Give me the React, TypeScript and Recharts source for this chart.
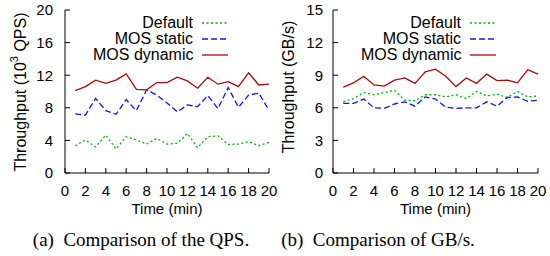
import React from 'react'
import { LineChart, Line, XAxis, YAxis, Legend, Label } from 'recharts'

const minutes = [1, 2, 3, 4, 5, 6, 7, 8, 9, 10, 11, 12, 13, 14, 15, 16, 17, 18, 19, 20]

// (a) throughput, 10^3 QPS
const qpsDefault = [3.35, 4.05, 3.2, 4.65, 2.95, 4.45, 4.05, 3.55, 4.25, 3.55, 3.65, 4.85, 3.1, 4.45, 4.55, 3.5, 3.55, 3.85, 3.35, 3.75]
const qpsStatic = [7.25, 7.1, 9.15, 7.65, 7.2, 9.0, 7.65, 10.2, 9.55, 8.6, 7.5, 8.35, 8.15, 9.5, 7.9, 10.5, 8.05, 9.55, 9.8, 7.7]
const qpsDynamic = [10.1, 10.6, 11.4, 11.0, 11.4, 12.15, 10.27, 10.2, 11.1, 11.1, 11.75, 11.3, 10.4, 11.75, 10.9, 11.2, 10.6, 12.3, 10.8, 10.9]

// (b) throughput, GB/s
const gbDefault = [6.55, 6.85, 7.4, 7.2, 7.4, 7.6, 6.7, 6.65, 7.2, 7.2, 7.0, 7.2, 6.85, 7.5, 7.1, 7.25, 6.95, 7.5, 7.0, 7.1]
const gbStatic = [6.4, 6.4, 6.8, 6.0, 5.95, 6.35, 6.55, 6.15, 7.0, 6.8, 6.05, 5.95, 6.0, 6.0, 6.55, 6.15, 6.95, 7.0, 6.6, 6.7]
const gbDynamic = [7.9, 8.3, 8.9, 8.1, 8.0, 8.55, 8.75, 8.25, 9.3, 9.55, 8.9, 7.95, 8.75, 8.25, 9.1, 8.5, 8.55, 8.3, 9.5, 9.1]

const timeTicks = [0, 2, 4, 6, 8, 10, 12, 14, 16, 18, 20]
const qpsTicks = [0, 4, 8, 12, 16, 20]
const gbTicks = [0, 3, 6, 9, 12, 15]

const series = [
  { key: 'def', name: 'Default', color: '#00b400', dash: '2 2.5' },
  { key: 'stat', name: 'MOS static', color: '#1414ff', dash: '6 3' },
  { key: 'dyn', name: 'MOS dynamic', color: '#aa0a0a', dash: undefined as string | undefined },
]

const FONT = '"Liberation Sans", Arial, Helvetica, sans-serif'

function LegendBox() {
  return (
    <div style={{ fontSize: 16, lineHeight: '16px', color: '#000', fontFamily: FONT }}>
      {series.map((s) => (
        <div key={s.key} style={{ display: 'flex', alignItems: 'center', height: 16 }}>
          <span style={{ width: 100, textAlign: 'right', marginRight: 9, whiteSpace: 'nowrap' }}>{s.name}</span>
          <svg width={26} height={4}>
            <line x1={0} y1={2} x2={26} y2={2} stroke={s.color} strokeWidth={1.3} strokeDasharray={s.dash} />
          </svg>
        </div>
      ))}
    </div>
  )
}

type PanelProps = {
  left: number
  width: number
  yAxisWidth: number
  rightMargin: number
  yMax: number
  yTicks: number[]
  tickGap: number
  values: number[][]
  yLabel: React.ReactNode
  labelX: number
  labelY: number
  legendLeft: number
  caption: string
  captionX: number
}

function Panel(p: PanelProps) {
  const data = minutes.map((t, i) => ({
    t,
    def: p.values[0][i],
    stat: p.values[1][i],
    dyn: p.values[2][i],
  }))
  const tickStyle = { fontSize: 15, fill: '#000', fontFamily: FONT }
  return (
    <div style={{ position: 'absolute', left: p.left, top: 0, width: p.width, height: 256 }}>
      <LineChart width={p.width} height={220} data={data} margin={{ top: 10, right: p.rightMargin, bottom: 0, left: 0 }}>
        <XAxis
          xAxisId="b"
          dataKey="t"
          type="number"
          domain={[0, 20]}
          ticks={timeTicks}
          interval={0}
          height={47}
          tickSize={-5}
          tickMargin={17}
          tick={tickStyle}
          stroke="#000"
          tickLine={{ stroke: '#000' }}
          axisLine={{ stroke: '#000' }}
        >
          <Label
            content={({ viewBox }: any) => (
              <text x={viewBox.x + viewBox.width / 2} y={214} textAnchor="middle" fontSize={15} fontFamily={FONT} fill="#000">
                Time (min)
              </text>
            )}
          />
        </XAxis>
        <XAxis xAxisId="top" orientation="top" type="number" domain={[0, 20]} height={0} tick={false} tickLine={false} axisLine={{ stroke: '#000' }} />
        <YAxis
          yAxisId="l"
          type="number"
          domain={[0, p.yMax]}
          ticks={p.yTicks}
          interval={0}
          width={p.yAxisWidth}
          tickSize={-5}
          tickMargin={p.tickGap}
          tick={tickStyle}
          tickLine={{ stroke: '#000' }}
          axisLine={{ stroke: '#000' }}
        >
          <Label
            content={() => (
              <text
                x={p.labelX}
                y={p.labelY}
                transform={`rotate(-90 ${p.labelX} ${p.labelY})`}
                textAnchor="middle"
                dominantBaseline="central"
                fontSize={16}
                fontFamily={FONT}
                fill="#000"
              >
                {p.yLabel}
              </text>
            )}
          />
        </YAxis>
        <YAxis
          yAxisId="r"
          orientation="right"
          type="number"
          domain={[0, p.yMax]}
          ticks={p.yTicks}
          interval={0}
          width={0}
          tickSize={-5}
          tick={false}
          tickLine={{ stroke: '#000' }}
          axisLine={{ stroke: '#000' }}
        />
        <Legend
          layout="vertical"
          align="center"
          verticalAlign="middle"
          wrapperStyle={{ left: p.legendLeft, top: 15, width: 'auto', height: 'auto' }}
          content={() => <LegendBox />}
        />
        {series.map((s) => (
          <Line
            key={s.key}
            xAxisId="b"
            yAxisId="l"
            type="linear"
            dataKey={s.key}
            name={s.name}
            stroke={s.color}
            strokeWidth={1.3}
            strokeDasharray={s.dash}
            dot={false}
            activeDot={false}
            isAnimationActive={false}
          />
        ))}
      </LineChart>
      <div
        style={{
          position: 'absolute',
          left: p.captionX - 150,
          width: 300,
          top: 229,
          textAlign: 'center',
          fontFamily: '"Liberation Serif", "Times New Roman", serif',
          fontSize: 19,
          lineHeight: '22px',
          color: '#000',
          whiteSpace: 'pre',
        }}
      >
        {p.caption}
      </div>
    </div>
  )
}

export default function App() {
  return (
    <div style={{ position: 'absolute', left: 0, top: 0, width: 550, height: 256, background: '#fff', fontFamily: FONT, overflow: 'hidden' }}>
      <style>{'.recharts-surface { overflow: visible; }'}</style>
      <Panel
        left={0}
        width={275}
        yAxisWidth={65}
        rightMargin={6}
        yMax={20}
        yTicks={qpsTicks}
        tickGap={17}
        values={[qpsDefault, qpsStatic, qpsDynamic]}
        yLabel={
          <>
            Throughput (10
            <tspan dy={-6} fontSize={11}>3</tspan>
            <tspan dy={6}> QPS)</tspan>
          </>
        }
        labelX={20}
        labelY={92}
        legendLeft={93}
        caption={'(a)  Comparison of the QPS.'}
        captionX={141}
      />
      <Panel
        left={270}
        width={280}
        yAxisWidth={63}
        rightMargin={12}
        yMax={15}
        yTicks={gbTicks}
        tickGap={15}
        values={[gbDefault, gbStatic, gbDynamic]}
        yLabel={'Throughput (GB/s)'}
        labelX={18}
        labelY={87}
        legendLeft={91}
        caption={'(b)  Comparison of GB/s.'}
        captionX={108}
      />
    </div>
  )
}
